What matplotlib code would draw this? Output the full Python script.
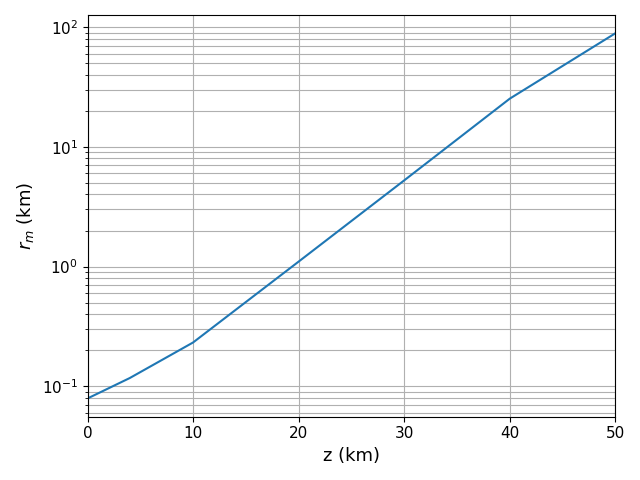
import numpy as np
import matplotlib
matplotlib.use("Agg")
import matplotlib.pyplot as plt

z_km = np.array([0, 4, 10, 20, 30, 40, 50])
r_m = np.array([0.079, 0.117, 0.232, 1.1, 5.25, 25.3, 89.0])

fig, ax = plt.subplots(figsize=(6.4, 4.8), dpi=100)
ax.plot(z_km, r_m)
ax.set_yscale('log')
ax.set_xlim(0, 50)
ax.grid(True, which='both')
ax.set_xlabel("z (km)", fontsize=13)
ax.set_ylabel("$r_m$ (km)", fontsize=13)
ax.tick_params(labelsize=11)
fig.tight_layout()
fig.savefig("out.png")
